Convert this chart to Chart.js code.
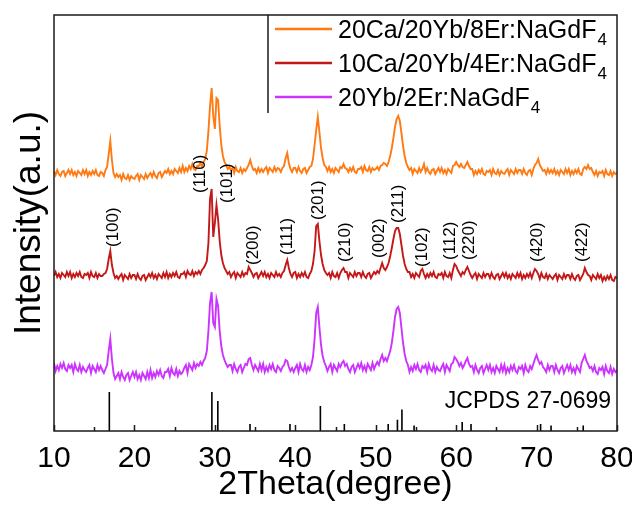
<!DOCTYPE html>
<html><head><meta charset="utf-8">
<script src="https://cdn.jsdelivr.net/npm/chart.js@4.4.0/dist/chart.umd.min.js"></script>
<style>html,body{margin:0;padding:0;background:#fff;}canvas{display:block;}</style>
</head><body>
<canvas id="c" width="632" height="507"></canvas>
<script>
const FONT = '"Liberation Sans", Arial, Helvetica, sans-serif';

// 2Theta sampling grid (degrees), 10.0 to 80.0 in 0.2 steps
const twoTheta = Array.from({length: 351}, (_, i) => Math.round((10 + 0.2 * i) * 10) / 10);

const seriesLabels = ['20Ca/20Yb/8Er:NaGdF', '10Ca/20Yb/4Er:NaGdF', '20Yb/2Er:NaGdF'];
const seriesSub = ['4', '4', '4'];
const seriesColors = ['#FF7A12', '#C41818', '#CC33FF'];

// intensity (a.u., curves offset vertically), one value per 2Theta sample
const caYbEr8 = [
260,256,261,257,255,259,260,255,258,261,
257,261,256,259,255,260,258,256,261,257,
261,255,259,256,260,257,261,256,255,259,
258,255,261,264,277,290,271,258,254,257,
254,256,251,257,253,252,256,251,255,253,
252,255,257,251,256,254,252,257,253,256,
258,254,259,255,253,258,259,254,257,260,
258,262,257,260,257,262,260,258,263,259,
265,259,263,260,265,262,267,262,261,265,
265,268,264,269,272,280,300,325,343,315,
302,333,331,305,286,275,269,266,262,264,
261,263,258,264,260,259,263,258,262,260,
263,266,271,265,261,262,258,263,259,262,
259,262,264,258,263,261,259,264,260,263,
262,259,263,265,273,278,268,262,259,263,
263,259,264,260,258,262,263,258,261,264,
265,272,286,301,314,299,283,273,266,264,
260,264,259,262,258,263,261,259,264,263,
267,263,262,259,263,260,264,259,258,262,
262,264,259,265,261,260,264,259,263,261,
262,264,261,265,266,268,267,265,269,275,
283,293,304,312,315,310,298,285,275,268,
264,261,263,257,262,260,258,263,259,262,
267,259,263,259,257,261,262,257,260,263,
259,263,258,261,257,262,260,258,265,266,
269,266,264,267,264,263,266,269,265,262,
262,256,260,257,261,258,262,257,256,260,
259,261,256,262,258,257,261,256,260,258,
257,260,262,256,261,259,257,262,258,261,
261,257,262,258,256,260,261,256,262,266,
268,272,266,263,260,261,257,262,258,261,
258,262,257,260,256,261,259,257,262,258,
262,256,260,257,261,258,262,257,256,262,
264,262,266,262,263,259,256,260,255,259,
258,260,255,261,257,256,260,255,259,257,
258];

const caYbEr4 = [
155,159,154,157,153,158,156,154,159,155,
159,153,157,154,158,155,159,154,153,157,
156,158,153,159,155,154,158,153,157,155,
155,157,158,162,172,180,166,158,153,155,
152,155,157,151,156,154,152,157,153,156,
156,152,157,153,151,155,156,151,154,157,
154,158,153,156,152,157,155,153,158,154,
159,153,157,154,158,155,159,154,153,157,
157,159,154,160,157,156,160,155,159,157,
160,157,161,163,166,170,188,232,242,194,
208,226,212,190,176,168,163,160,157,159,
154,157,159,153,158,156,154,159,155,158,
157,164,161,158,154,157,158,153,156,159,
155,159,154,157,153,158,156,154,159,155,
157,154,158,160,166,171,163,157,154,158,
159,153,157,154,158,155,159,154,153,157,
160,167,180,205,207,190,176,167,161,158,
156,158,153,159,155,154,158,153,158,161,
163,159,159,153,158,156,154,159,155,158,
158,154,159,155,153,157,158,153,156,159,
157,160,158,163,168,163,161,164,168,175,
183,192,200,203,203,197,186,175,167,162,
159,159,154,157,153,158,156,154,160,162,
157,153,157,154,158,155,159,154,153,157,
156,158,153,159,155,154,158,153,161,167,
165,161,158,155,159,157,161,164,160,156,
153,156,158,152,157,155,153,158,154,157,
157,153,158,154,152,156,157,152,155,158,
154,158,153,156,152,157,155,153,158,154,
158,152,156,153,157,154,158,153,158,162,
160,157,152,158,154,153,157,152,156,154,
152,155,157,151,156,154,152,157,153,156,
156,152,157,153,151,155,156,151,154,157,
163,159,156,155,151,156,154,152,157,153,
156,150,154,151,155,152,156,151,150,154,
153];

const ybEr2 = [
68,60,65,61,67,63,68,62,60,66,
63,66,59,67,62,60,66,59,64,61,
59,63,66,58,65,62,59,66,61,65,
61,58,62,66,80,92,72,58,52,55,
58,52,59,54,51,56,58,51,55,59,
54,59,52,56,51,58,55,52,59,53,
61,53,58,54,60,56,61,55,53,59,
59,62,55,63,58,56,62,55,60,57,
59,63,66,58,67,64,61,68,63,67,
65,69,66,70,73,80,100,128,139,108,
104,132,125,100,85,76,71,67,64,66,
66,60,67,62,59,64,66,59,63,67,
66,72,73,66,61,66,63,60,67,61,
67,59,64,60,66,62,67,61,59,65,
63,60,64,66,71,70,64,60,63,59,
63,66,59,67,62,60,66,59,64,61,
66,74,92,118,124,104,86,75,69,65,
60,64,67,59,66,63,60,67,64,68,
70,65,67,62,59,64,66,59,63,67,
63,68,61,65,60,67,64,61,68,62,
66,69,66,72,76,70,73,70,75,80,
88,100,114,122,124,118,103,88,77,70,
66,59,64,60,66,62,67,61,59,65,
63,66,59,67,62,60,66,59,64,61,
60,64,67,59,66,63,60,67,68,74,
72,69,65,68,63,66,70,73,67,64,
65,59,66,61,58,63,65,58,62,66,
61,66,59,63,58,65,62,59,66,60,
66,58,63,59,65,61,66,60,58,64,
62,65,58,66,61,59,65,62,67,72,
76,71,67,69,64,62,59,66,61,65,
65,59,66,61,58,63,65,58,62,66,
61,66,59,63,58,65,62,59,68,72,
76,70,67,63,64,60,65,59,57,63,
61,64,57,65,60,58,64,57,62,59,
61];

// reference card sticks
const refCardLabel = 'JCPDS 27-0699';
const stickTheta = [16.88, 29.63, 30.37, 34.37, 39.34, 43.12, 46.1, 51.55, 52.7, 53.26, 54.77, 60.75, 61.85, 70.5, 71.8, 75.8];
const stickIntensity = [100, 100, 77, 18, 18, 64, 18, 18, 29, 55, 14, 23, 18, 18, 14, 14];

// Miller index annotations: text, 2Theta, intensity level where text starts
const hklLabels = ['(100)','(110)','(101)','(200)','(111)','(201)','(210)','(002)','(211)','(102)','(112)','(220)','(420)','(422)'];
const hklTheta  = [17.34, 28.15, 31.5, 34.74, 38.97, 42.82, 46.18, 50.41, 52.77, 55.75, 59.24, 61.6, 70.05, 75.65];
const hklLevel  = [184, 238, 228, 166, 176, 211, 169, 173, 208, 164, 171, 171, 169, 169];

const xMin = 10, xMax = 80, xStep = 10;

const STICK_SCALE = 0.39;
const stickPoints = [];
stickTheta.forEach((t, i) => {
  stickPoints.push({x: t, y: 0}, {x: t, y: stickIntensity[i] * STICK_SCALE}, {x: t, y: null});
});

const toPts = arr => twoTheta.map((t, i) => ({x: t, y: arr[i]}));
const curves = [caYbEr8, caYbEr4, ybEr2];

const decor = {
  id: 'decor',
  afterDatasetsDraw(chart) {
    const {ctx, chartArea: a, scales: {x, y}} = chart;
    ctx.save();
    ctx.strokeStyle = '#1a1a1a';
    ctx.lineWidth = 1.5;
    ctx.strokeRect(a.left, a.top, a.right - a.left, a.bottom - a.top);
    ctx.beginPath();
    for (let v = xMin; v <= xMax; v += xStep / 2) {
      const px = Math.round(x.getPixelForValue(v)) + 0.5;
      const len = (v % xStep === 0) ? 6 : 4;
      ctx.moveTo(px, a.bottom);
      ctx.lineTo(px, a.bottom - len);
    }
    ctx.stroke();

    ctx.fillStyle = '#000';
    ctx.font = '17px ' + FONT;
    ctx.textAlign = 'left';
    ctx.textBaseline = 'middle';
    hklLabels.forEach((t, i) => {
      const px = x.getPixelForValue(hklTheta[i]);
      const py = y.getPixelForValue(hklLevel[i]);
      ctx.save();
      ctx.translate(px, py);
      ctx.rotate(-Math.PI / 2);
      ctx.fillText(t, 0, 0);
      ctx.restore();
    });

    ctx.font = '23px ' + FONT;
    ctx.textAlign = 'right';
    ctx.fillText(refCardLabel, a.right - 6, y.getPixelForValue(29));

    // legend
    const lx = 268;
    ctx.strokeStyle = '#1a1a1a';
    ctx.lineWidth = 1.5;
    ctx.beginPath();
    ctx.moveTo(lx, a.top);
    ctx.lineTo(lx, a.top + 98);
    ctx.stroke();
    seriesLabels.forEach((lab, i) => {
      const cy = a.top + 14 + i * 34;
      ctx.strokeStyle = seriesColors[i];
      ctx.lineWidth = 2.5;
      ctx.beginPath();
      ctx.moveTo(275, cy);
      ctx.lineTo(332, cy);
      ctx.stroke();
      ctx.fillStyle = '#000';
      ctx.font = '25px ' + FONT;
      ctx.textAlign = 'left';
      ctx.textBaseline = 'alphabetic';
      ctx.fillText(lab, 338, cy + 9);
      const w = ctx.measureText(lab).width;
      ctx.font = '17px ' + FONT;
      ctx.fillText(seriesSub[i], 338 + w + 1, cy + 16);
    });
    ctx.restore();
  }
};

new Chart(document.getElementById('c'), {
  type: 'line',
  data: {
    datasets: [
      ...curves.map((arr, i) => ({
        label: seriesLabels[i] + seriesSub[i],
        data: toPts(arr),
        borderColor: seriesColors[i],
        borderWidth: 1.9,
        pointRadius: 0,
        tension: 0,
        fill: false
      })),
      {
        label: refCardLabel,
        data: stickPoints,
        borderColor: '#000',
        borderWidth: 1.6,
        pointRadius: 0,
        spanGaps: false,
        fill: false
      }
    ]
  },
  options: {
    responsive: false,
    devicePixelRatio: 1,
    animation: false,
    layout: {padding: {top: 15, right: 15, left: 0, bottom: 0}},
    plugins: {legend: {display: false}, tooltip: {enabled: false}},
    scales: {
      x: {
        type: 'linear', min: xMin, max: xMax,
        ticks: {stepSize: xStep, color: '#000', font: {size: 30, family: FONT}, padding: 2, maxRotation: 0, autoSkip: false},
        grid: {display: false},
        border: {display: false},
        title: {display: true, text: '2Theta(degree)', color: '#000', font: {size: 34, family: FONT}, padding: {top: 0, bottom: 2}},
        afterFit(s) { s.height = 76; s.paddingLeft = 0; s.paddingRight = 0; }
      },
      y: {
        min: 0, max: 416,
        ticks: {display: false},
        grid: {display: false},
        border: {display: false},
        title: {display: true, text: 'Intensity(a.u.)', color: '#000', font: {size: 37, family: FONT}, padding: {top: 8, bottom: 0}},
        afterFit(s) { s.width = 54; }
      }
    }
  },
  plugins: [decor]
});
</script>
</body></html>
